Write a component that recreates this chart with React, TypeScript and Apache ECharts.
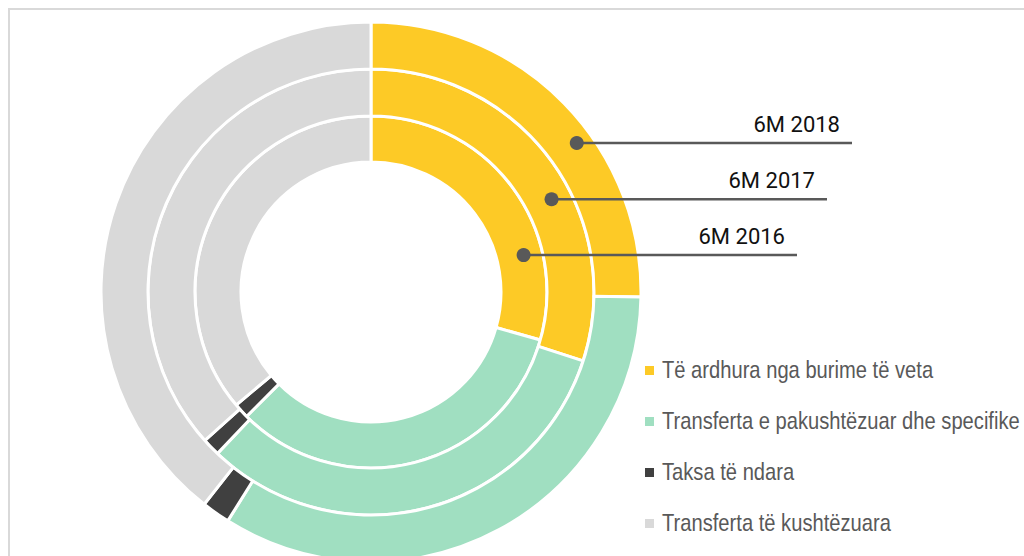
import React, { useEffect, useRef } from "react";
import * as echarts from "echarts";

const categories = [
  "Të ardhura nga burime të veta",
  "Transferta e pakushtëzuar dhe specifike",
  "Taksa të ndara",
  "Transferta të kushtëzuara",
];
const colors = ["#FDCA26", "#A0DFC1", "#404040", "#D9D9D9"];

const years = ["6M 2016", "6M 2017", "6M 2018"];
const values2016 = [29.4, 33.1, 1.4, 36.1];
const values2017 = [30.0, 32.1, 1.3, 36.6];
const values2018 = [25.3, 33.6, 1.7, 39.4];
const yearValues = [values2016, values2017, values2018];

// ring radii (px), inner to outer
const ringRadii: [number, number][] = [
  [130, 176],
  [176, 223],
  [223, 270],
];
const CX = 371;
const CY = 292;

// annotation: angle from top clockwise (deg), radius, line end x
const annotations = [
  { label: "6M 2016", angle: 76.4, r: 157, endX: 797 },
  { label: "6M 2017", angle: 62.8, r: 203, endX: 827 },
  { label: "6M 2018", angle: 54.1, r: 254, endX: 852 },
];

const LEGEND_X = 645;
const LEGEND_Y0 = 370;
const LEGEND_STEP = 51;

export default function App() {
  const ref = useRef<HTMLDivElement>(null);
  useEffect(() => {
    document.body.style.margin = "0";
    document.body.style.overflow = "hidden";
    const chart = echarts.init(ref.current!, undefined, { renderer: "svg" });

    const series = yearValues.map((vals, i) => ({
      type: "pie",
      name: years[i],
      center: [CX, CY],
      radius: ringRadii[i],
      startAngle: 90,
      clockwise: true,
      silent: true,
      label: { show: false },
      labelLine: { show: false },
      emphasis: { disabled: true },
      itemStyle: { borderColor: "#ffffff", borderWidth: 3 },
      data: vals.map((v, j) => ({
        name: categories[j],
        value: v,
        itemStyle: { color: colors[j] },
      })),
    }));

    const graphics: any[] = [
      {
        type: "rect",
        shape: { x: 9, y: 9, width: 1200, height: 700 },
        style: { fill: "none", stroke: "#D9D9D9", lineWidth: 2 },
        z: -10,
        silent: true,
      },
    ];
    annotations.forEach((a) => {
      const rad = (a.angle * Math.PI) / 180;
      const x = CX + a.r * Math.sin(rad);
      const y = CY - a.r * Math.cos(rad);
      graphics.push({
        type: "line",
        shape: { x1: x, y1: y, x2: a.endX, y2: y },
        style: { stroke: "#595959", lineWidth: 2.5 },
        z: 100,
      });
      graphics.push({
        type: "circle",
        shape: { cx: x, cy: y, r: 7 },
        style: { fill: "#595959" },
        z: 101,
      });
      graphics.push({
        type: "text",
        x: a.endX - 12,
        y: y - 8,
        style: {
          text: a.label,
          fill: "#111111",
          font: '22px Roboto, "Open Sans", sans-serif',
          textAlign: "right",
          textVerticalAlign: "bottom",
        },
        z: 102,
      });
    });

    categories.forEach((c, i) => {
      const y = LEGEND_Y0 + i * LEGEND_STEP;
      graphics.push({
        type: "rect",
        shape: { x: LEGEND_X, y: y - 4, width: 9, height: 9 },
        style: { fill: colors[i] },
        z: 50,
      });
      graphics.push({
        type: "text",
        x: LEGEND_X + 17,
        y: y,
        scaleX: 0.84,
        style: {
          text: c,
          fill: "#595959",
          font: '24px "Liberation Sans", Arial, sans-serif',
          textAlign: "left",
          textVerticalAlign: "middle",
        },
        z: 50,
      });
    });

    chart.setOption({
      animation: false,
      series,
      graphic: graphics,
    });
    return () => chart.dispose();
  }, []);
  return <div ref={ref} style={{ width: 1024, height: 556 }} />;
}
